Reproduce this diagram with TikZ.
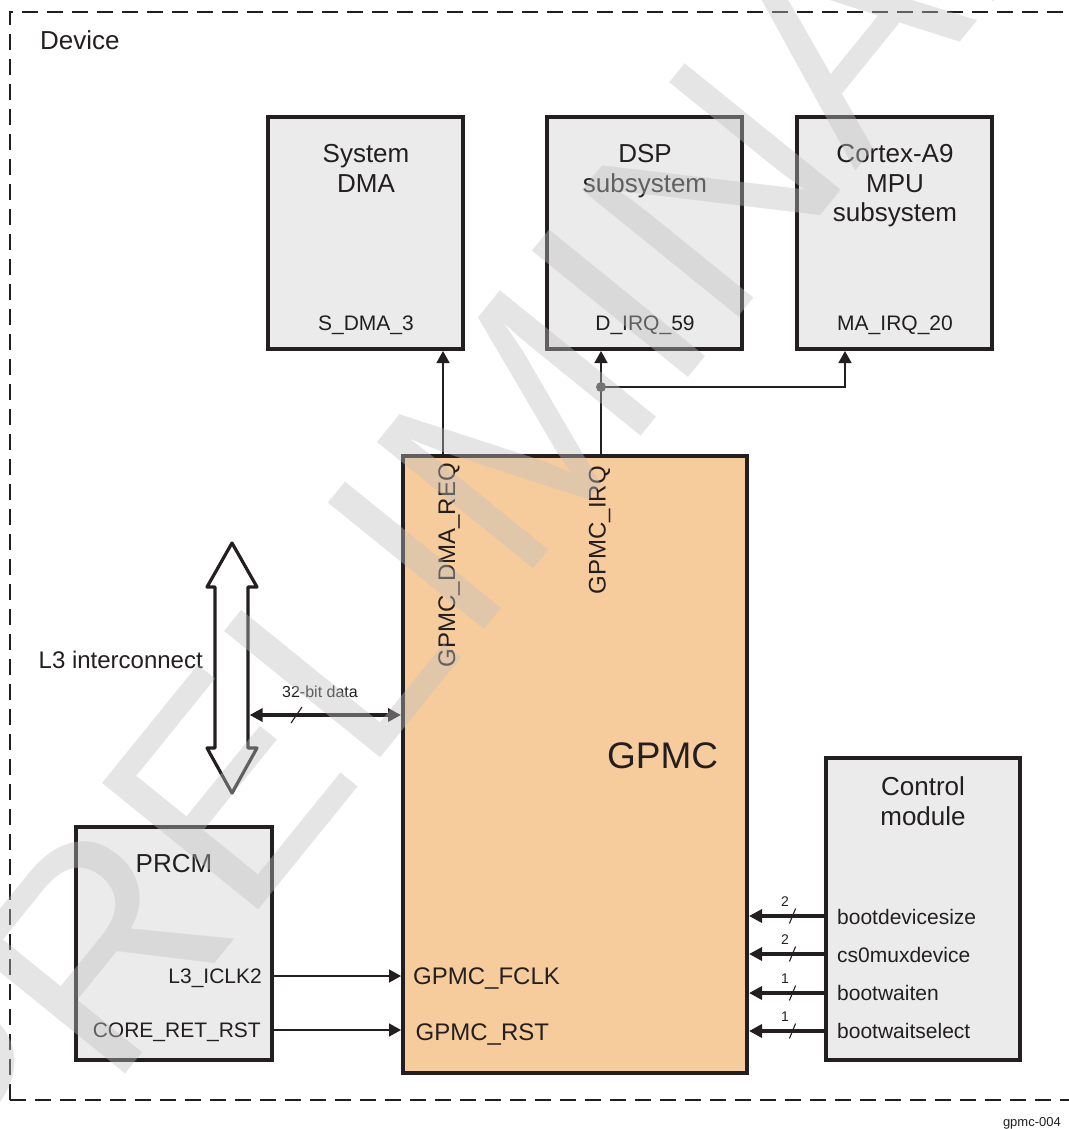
\documentclass[tikz,border=0pt]{standalone}
\usepackage{fontspec}
\setmainfont{Liberation Sans}
\usetikzlibrary{arrows.meta}
\definecolor{lc}{HTML}{231F20}
\definecolor{boxfill}{HTML}{EBEBEB}
\definecolor{gpmcfill}{HTML}{F7CC9C}
\definecolor{wmgray}{HTML}{C0C0C0}
\begin{document}
\begin{tikzpicture}[x=1pt,y=-1pt,
  blk/.style={draw=lc, line width=4pt, fill=boxfill, inner sep=0pt, anchor=north west},
  big/.style={font=\fontsize{26}{29.5}\selectfont, align=center, text=lc, inner sep=0pt, anchor=north},
  sig/.style={font=\fontsize{21}{24}\selectfont, text=lc, inner sep=0pt},
  pin/.style={font=\fontsize{24}{28}\selectfont, text=lc, inner sep=0pt},
  wire/.style={draw=lc, line width=1.5pt, -{Triangle[length=12pt,width=13pt]}},
  bus/.style={draw=lc, line width=3.6pt, -{Triangle[length=13pt,width=13pt]}},
  tick/.style={draw=lc, line width=1.1pt},
  num/.style={font=\fontsize{14}{16}\selectfont, text=lc, inner sep=0pt, anchor=base}]
\useasboundingbox (0,0) rectangle (1068,1129);
\fill[white] (0,0) rectangle (1068,1129);
% device border
\draw[lc, line width=2pt, dash pattern=on 16pt off 9pt] (10,1100) -- (10,12) -- (1085,12);
\draw[lc, line width=2pt, dash pattern=on 16pt off 9pt] (10,1100) -- (1085,1100);
\node[font=\fontsize{26}{30}\selectfont, anchor=base west, inner sep=0pt, text=lc] (dev) at (40,50) {Device};
% boxes
\node[blk, minimum width=195pt, minimum height=232pt] (dma) at (266,115) {};
\node[blk, minimum width=195pt, minimum height=232pt] (dsp) at (545,115) {};
\node[blk, minimum width=195pt, minimum height=232pt] (cpu) at (795,115) {};
\node[blk, fill=gpmcfill, minimum width=344pt, minimum height=617pt] (gpmc) at (401,454) {};
\node[blk, minimum width=196pt, minimum height=233pt] (prcm) at (74,825) {};
\node[blk, minimum width=194pt, minimum height=302pt] (ctrl) at (824,756) {};
% box titles
\node[big] (dmat) at (366,144.6) {System\\DMA};
\node[big] (dspt) at (645,144.6) {DSP\\subsystem};
\node[big] (cput) at (895,144.6) {Cortex-A9\\MPU\\subsystem};
\node[big] (prcmt) at (174,854.3) {PRCM};
\node[big, font=\fontsize{26}{30.5}\selectfont] (ctrlt) at (923,776.3) {Control\\module};
\node[font=\fontsize{37}{40}\selectfont, anchor=base west, inner sep=0pt, text=lc] (gpmct) at (607,768) {GPMC};
% signal names
\node[sig, anchor=base] (sdma) at (366,330) {S\_DMA\_3};
\node[sig, anchor=base] (dirq) at (645,330) {D\_IRQ\_59};
\node[sig, anchor=base] (mairq) at (895,330) {MA\_IRQ\_20};
\node[sig, anchor=base east] (iclk) at (262,983) {L3\_ICLK2};
\node[sig, anchor=base east] (crst) at (261,1037) {CORE\_RET\_RST};
\node[pin, anchor=base west] (fclk) at (413,984) {GPMC\_FCLK};
\node[pin, anchor=base west] (grst) at (415.5,1040) {GPMC\_RST};
\node[pin, anchor=base east, rotate=90] (dmareq) at (455,463) {GPMC\_DMA\_REQ};
\node[pin, anchor=base east, rotate=90] (irqt) at (605.5,466) {GPMC\_IRQ};
\node[sig, anchor=base west] (s1) at (837,924) {bootdevicesize};
\node[sig, anchor=base west] (s2) at (837,962) {cs0muxdevice};
\node[sig, anchor=base west] (s3) at (837,1000.5) {bootwaiten};
\node[sig, anchor=base west] (s4) at (837,1038.5) {bootwaitselect};
\node[font=\fontsize{24}{28}\selectfont, anchor=base west, inner sep=0pt, text=lc] (l3t) at (38.5,668) {L3 interconnect};
\node[font=\fontsize{16}{18}\selectfont, anchor=base, inner sep=0pt, text=lc] (bitt) at (320,697) {32-bit data};
\node[font=\fontsize{13}{15}\selectfont, anchor=base east, inner sep=0pt, text=lc] (fig) at (1061,1126) {gpmc-004};
% L3 interconnect double arrow
\draw[draw=lc, fill=white, line width=3.2pt, line join=round]
  (232,543) -- (257,587) -- (248,587) -- (248,748) -- (257,748) -- (232,793)
  -- (207,748) -- (215,748) -- (215,587) -- (207,587) -- cycle;
\coordinate (l3r) at (249.6,715);
\draw[bus, {Triangle[length=13pt,width=13pt]}-{Triangle[length=13pt,width=13pt]}] (l3r) -- (l3r -| gpmc.west);
\draw[tick] (291,723) -- (302,707);
% DMA request
\coordinate (dmaq) at (443,454);
\draw[wire] (dmaq) -- (dmaq |- dma.south);
% IRQ
\coordinate (irqo) at (601,454);
\coordinate (jn) at (601,387);
\coordinate (mai) at (845,387);
\draw[draw=lc, line width=1.5pt] (irqo) -- (jn);
\draw[wire] (jn) -- (jn |- dsp.south);
\draw[wire] (jn) -- (mai) -- (mai |- cpu.south);
\fill[lc!85] (jn) circle (5pt);
% PRCM
\coordinate (yclk) at (0,976);
\coordinate (yrst) at (0,1030);
\draw[wire] (yclk -| prcm.east) -- (yclk -| gpmc.west);
\draw[wire] (yrst -| prcm.east) -- (yrst -| gpmc.west);
% Control module
\coordinate (c1) at (0,916);
\coordinate (c2) at (0,954);
\coordinate (c3) at (0,993);
\coordinate (c4) at (0,1031);
\foreach \c/\n/\t in {c1/2/a,c2/2/b,c3/1/c,c4/1/d}{
  \draw[bus] (\c -| ctrl.west) -- (\c -| gpmc.east);
  \draw[tick] ([xshift=789.4pt,yshift=-7.5pt]\c) -- ([xshift=795.6pt,yshift=7.5pt]\c);
  \node[num] (n\t) at ([xshift=785pt,yshift=10pt]\c) {\n};
}
% watermark
\node[rotate=51, font=\fontsize{292}{292}\selectfont, text=wmgray, opacity=0.4, inner sep=0pt] (wm) at (531,413) {PRELIMINARY};
\end{tikzpicture}
\end{document}
